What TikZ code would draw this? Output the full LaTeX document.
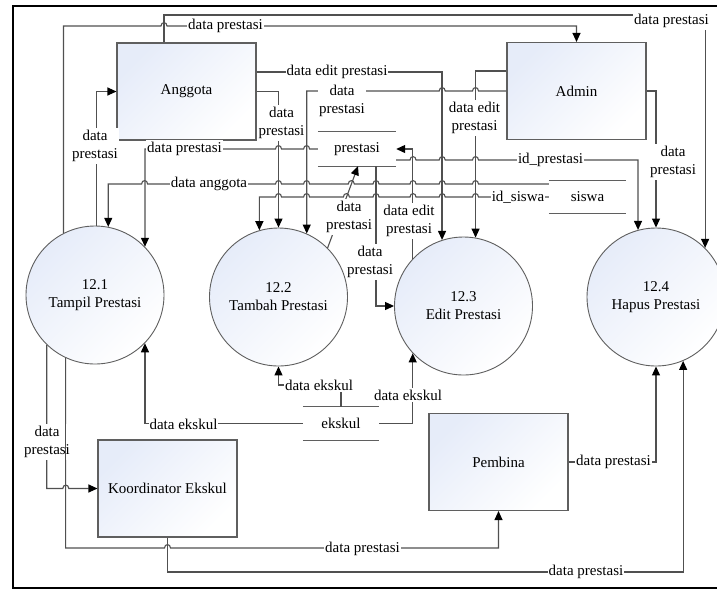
\documentclass[tikz,border=0pt]{standalone}
\usepackage{fontspec}
\setmainfont{Liberation Serif}
\usetikzlibrary{arrows.meta}
\definecolor{lc}{RGB}{80,80,80}
\definecolor{bc}{RGB}{95,95,95}
\definecolor{sh}{RGB}{230,236,249}
\newcommand\dfdfont{\fontsize{15}{18}\selectfont}
\newcommand\hpr[2]{-- (#1-3,#2) .. controls (#1-3,#2-4.5) and (#1+3,#2-4.5) .. (#1+3,#2)}
\newcommand\hpl[2]{-- (#1+3,#2) .. controls (#1+3,#2-4.5) and (#1-3,#2-4.5) .. (#1-3,#2)}
\begin{document}
\begin{tikzpicture}[x=1pt,y=-1pt,
  ent/.style={draw=bc, line width=1.1pt, minimum width=139pt, minimum height=97pt, inner sep=0pt,
    top color=sh, bottom color=white, shading angle=45, font=\dfdfont},
  proc/.style={circle, draw=bc, line width=0.9pt, minimum size=138pt, inner sep=0pt,
    top color=sh, bottom color=white, shading angle=45, align=center, font=\dfdfont},
  store/.style={minimum width=78pt, minimum height=33pt, inner sep=0pt, font=\dfdfont},
  sline/.style={draw=bc, line width=1.1pt},
  plain/.style={draw=lc, line width=1.1pt},
  flow/.style={plain, -{Triangle[length=9pt,width=8pt,color=black]}},
  lbl/.style={fill=white, inner xsep=1pt, inner ysep=2pt, align=center, font=\dfdfont},
  frame/.style={draw=black, line width=2pt}]
\useasboundingbox (0,0) rectangle (717,590);
\clip (0,0) rectangle (717,590);
\fill[white] (0,0) rectangle (717,590);
\draw[frame] (740,6) -- (12.5,6) -- (12.5,588) -- (740,588);

% entities
\node[ent] (ang) at (186.5,91.5) {Anggota};
\node[ent] (adm) at (576.5,91) {Admin};
\node[ent] (koo) at (167.5,488.5) {Koordinator Ekskul};
\node[ent] (pem) at (498.5,462) {Pembina};
% processes
\node[proc] (p21) at (95,295) {12.1\\Tampil Prestasi};
\node[proc] (p22) at (278.5,297) {12.2\\Tambah Prestasi};
\node[proc] (p23) at (463.5,306) {12.3\\Edit Prestasi};
\node[proc] (p24) at (656,297) {12.4\\Hapus Prestasi};
% data stores
\node[store, minimum height=34pt] (pre) at (357,149) {prestasi};
\node[store, minimum width=77pt, minimum height=32pt] (sis) at (587.5,197) {siswa};
\node[store, minimum width=76pt] (eks) at (341,423.5) {ekskul};
\draw[sline] (pre.north west) -- (pre.north east) (pre.south west) -- (pre.south east);
\draw[sline] (sis.north west) -- (sis.north east) (sis.south west) -- (sis.south east);
\draw[sline] (eks.north west) -- (eks.north east) (eks.south west) -- (eks.south east);

% connectors
\draw[flow] (p21.117) -- (p21.117 |- 0,26) \hpr{164}{26} -- (adm.north |- 0,26) -- (adm.north);
\draw[flow] (164,0 |- ang.north) -- (164,15) -- (p24.45 |- 0,15) -- (p24.45);
\draw[flow] (ang.east |- 0,72) -- (p23.108 |- 0,72) -- (p23.108);
\draw[flow] (ang.east) -- (p22.90 |- ang.east) -- (p22.90);
\draw[flow] (p21.89) -- (p21.89 |- ang.west) -- (ang.west);
\draw[flow] (pre.west) \hpl{306.6}{149} \hpl{278.5}{149} -- (p21.44 |- pre.west) -- (p21.44);
\draw[flow] (sis.west |- 0,184) \hpl{475.5}{184} \hpl{442.2}{184} \hpl{413}{184} \hpl{376}{184}
  \hpl{351.3}{184} \hpl{306.6}{184} \hpl{278.5}{184} \hpl{144.6}{184} -- (p21.79 |- 0,184) -- (p21.79);
\draw[flow] (sis.west) \hpl{475.5}{197} \hpl{442.2}{197} \hpl{413}{197} \hpl{376}{197}
  \hpl{346.4}{197} \hpl{306.6}{197} \hpl{278.5}{197} -- (p22.106 |- sis.west) -- (p22.106);
\draw[flow] (adm.west) \hpl{475.5}{91} \hpl{442.2}{91} -- (p22.66 |- adm.west) -- (p22.66);
\draw[flow] (adm.west |- 0,71) -- (p23.80 |- 0,71) -- (p23.80);
\draw[flow] (adm.east) -- (p24.90 |- adm.east) -- (p24.90);
\draw[flow] (pre.east |- 0,160) \hpr{413}{160} \hpr{442.2}{160} \hpr{475.5}{160} -- (p24.105 |- 0,160) -- (p24.105);
\draw[flow] (p23.137) -- (p23.137 |- pre.east) -- (pre.east);
\draw[flow] (376,0 |- pre.south) -- (376,0 |- p23.west) -- (p23.west);
\draw[flow] (p22.45) -- (358,0 |- pre.south);
\draw[flow] (eks.west) -- (p21.316 |- eks.west) -- (p21.316);
\draw[flow] (eks.north) -- (eks.north |- 0,385) -- (p22.south |- 0,385) -- (p22.south);
\draw[flow] (eks.east) -- (p23.223 |- eks.east) -- (p23.223);
\draw[flow] (p21.226) -- (p21.226 |- koo.west) \hpr{65.8}{488.5} -- (koo.west);
\draw[flow] (p21.245) -- (p21.245 |- 0,548) \hpr{167.5}{548} -- (pem.south |- 0,548) -- (pem.south);
\draw[flow] (koo.south) -- (koo.south |- 0,572) -- (p24.293 |- 0,572) -- (p24.293);
\draw[flow] (pem.east) -- (p24.south |- pem.east) -- (p24.south);

% labels
\node[lbl] (t1) at (225.5,26) {data prestasi};
\node[lbl] (t2) at (671.5,21) {data prestasi};
\node[lbl] (t3) at (337,72) {data edit prestasi};
\node[lbl] (t4) at (281.5,123) {data\\prestasi};
\node[lbl] (t5) at (95,146) {data\\prestasi};
\node[lbl] (t6) at (184.5,149) {data prestasi};
\node[lbl] (t7) at (209,184) {data anggota};
\node[lbl] (t8) at (518,197) {id\_siswa};
\node[lbl] (t9) at (342,101) {data\\prestasi};
\node[lbl] (t10) at (474.5,118) {data edit\\prestasi};
\node[lbl] (t11) at (673,162) {data\\prestasi};
\node[lbl] (t12) at (550.5,160) {id\_prestasi};
\node[lbl] (t13) at (409,221) {data edit\\prestasi};
\node[lbl] (t14) at (370,262) {data\\prestasi};
\node[lbl] (t15) at (349,217) {data\\prestasi};
\node[lbl] (t16) at (183.5,424) {data ekskul};
\node[lbl] (t17) at (319,385) {data ekskul};
\node[lbl] (t18) at (408,395) {data ekskul};
\node[lbl] (t19) at (47,442) {data\\prestasi};
\node[lbl] (t20) at (362.5,549) {data prestasi};
\node[lbl] (t21) at (586,572) {data prestasi};
\node[lbl] (t22) at (613.5,462) {data prestasi};

% the 12.1 -> Pembina line shows through the label beside it, as in the reference
\draw[plain] (p21.245 |- t19.north) -- (p21.245 |- t19.south);
\end{tikzpicture}
\end{document}
